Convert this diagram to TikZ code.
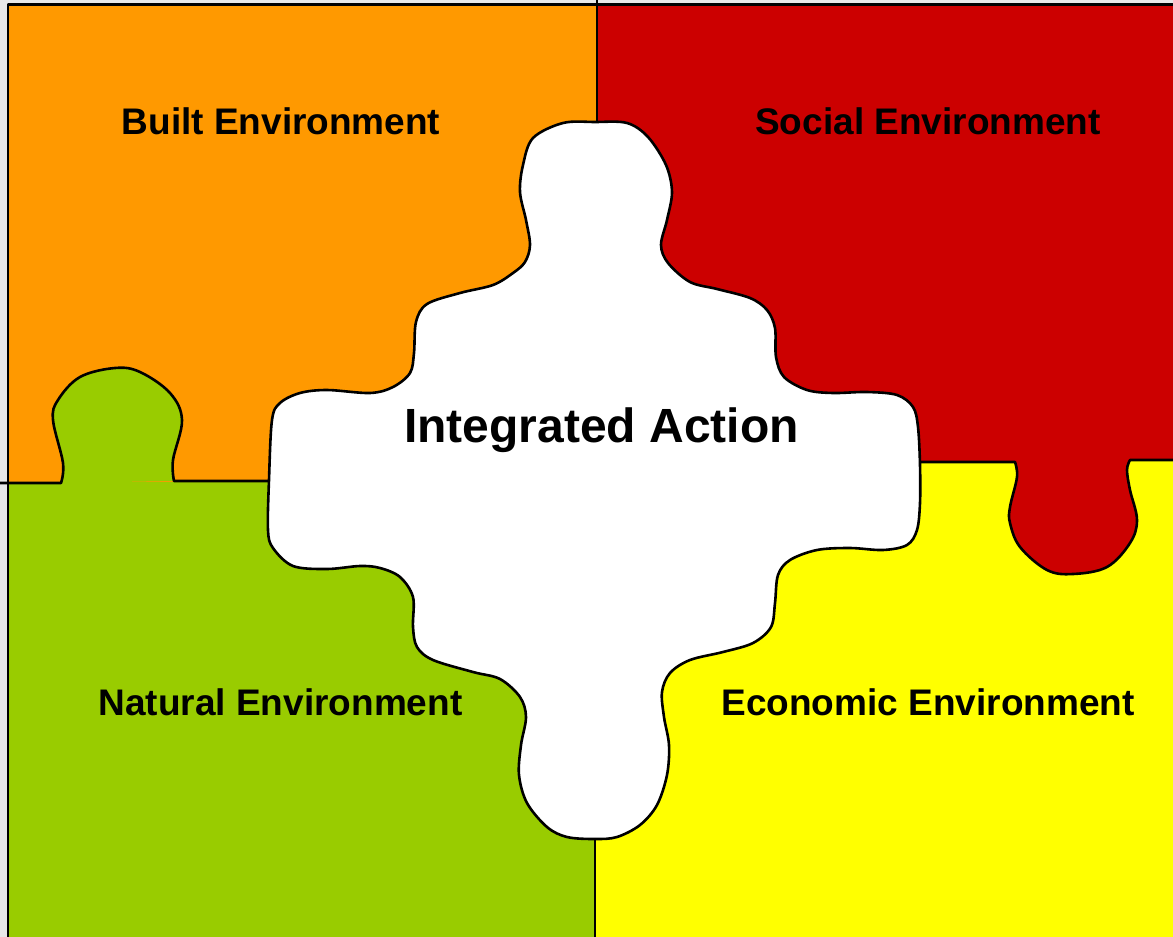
\documentclass[tikz,border=0pt]{standalone}
\usepackage{fontspec}
\setmainfont{Liberation Sans}
\definecolor{bggray}{HTML}{E8E8E8}
\definecolor{builtorange}{HTML}{FF9900}
\definecolor{socialred}{HTML}{CC0000}
\definecolor{naturalgreen}{HTML}{99CC00}
\definecolor{econyellow}{HTML}{FFFF00}
\tikzset{
  outline/.style={draw=black, line width=2.6pt, line join=round, line cap=round},
  label/.style={font=\fontsize{37}{44}\selectfont\bfseries, anchor=base, inner sep=0pt, text=black},
  biglabel/.style={font=\fontsize{48}{56}\selectfont\bfseries, anchor=base, inner sep=0pt, text=black}
}
\begin{document}
\begin{tikzpicture}[x=1pt,y=-1pt]
\useasboundingbox (0,0) rectangle (1173,937);
% background
\fill[bggray] (0,0) rectangle (1173,937);
% quadrants
\fill[builtorange] (8,4.5) rectangle (597,483);
\fill[socialred] (597,4.5) rectangle (1173,461.5);
\fill[naturalgreen] (8,482) rectangle (595,937);
\fill[econyellow] (595,461) rectangle (1173,937);
% tabs
\fill[naturalgreen] plot[smooth, tension=0.6] coordinates {(61,483) (63,463) (53,420) (58,400) (80,377) (115,368) (140,372) (170,393) (182,420) (173,460) (174,481)} -- cycle;
\fill[socialred] plot[smooth, tension=0.6] coordinates {(1015,461) (1017,477) (1010,507) (1010,523) (1020,547) (1047,570) (1073,574) (1107,567) (1130,543) (1137,520) (1130,490) (1127,470) (1130,460)} -- cycle;
% divider lines
\draw[outline] (0,483) -- (61,483) -- plot[smooth, tension=0.6] coordinates {(61,483) (63,463) (53,420) (58,400) (80,377) (115,368) (140,372) (170,393) (182,420) (173,460) (174,481)} -- (272,481);
\draw[outline] (916,462) -- (1015,462) -- plot[smooth, tension=0.6] coordinates {(1015,462) (1017,477) (1010,507) (1010,523) (1020,547) (1047,570) (1073,574) (1107,567) (1130,543) (1137,520) (1130,490) (1127,470) (1130,460)} -- (1173,460);
\draw[outline] (597,0) -- (597,125);
\draw[outline] (595,835) -- (595,937);
% frame
\draw[outline, line cap=butt] (8,937) -- (8,4.5) -- (1173,4.5);
% centre piece
\filldraw[outline, fill=white] plot[smooth cycle, tension=0.55] coordinates {
(595,122) (627,123) (648,137) (666,165) (672,192) (667,220) (661,245) (668,263)
(690,282) (717,289) (750,298) (767,310) (775,328) (776,357) (784,377) (807,390)
(833,393) (867,392) (897,395) (913,407) (918,427) (920,465) (920,503) (917,530)
(907,545) (883,550) (850,548) (817,550) (790,560) (778,575) (775,603) (771,627)
(753,643) (723,652) (690,660) (670,673) (662,692) (664,717) (669,745) (667,775)
(657,805) (640,825) (617,837) (595,839) (567,837) (547,827) (527,803) (519,775)
(521,745) (526,717) (520,697) (500,679) (473,672) (433,660) (417,647) (413,627)
(413,597) (400,577) (380,568) (360,566) (327,569) (293,566) (273,548) (268,530)
(269,480) (272,420) (280,403) (300,393) (327,390) (370,393) (393,387) (410,373)
(414,353) (416,322) (427,304) (460,293) (493,285) (513,273) (525,262) (530,245)
(526,220) (520,192) (523,165) (533,138) (563,123)};
% labels
\node[label] (built) at (281,134) {Built Environment};
\node[label] (social) at (928,134) {Social Environment};
\node[label] (natural) at (280.5,715) {Natural Environment};
\node[label] (economic) at (928,715) {Economic Environment};
\node[biglabel] (integrated) at (601.5,442) {Integrated Action};
\end{tikzpicture}
\end{document}
